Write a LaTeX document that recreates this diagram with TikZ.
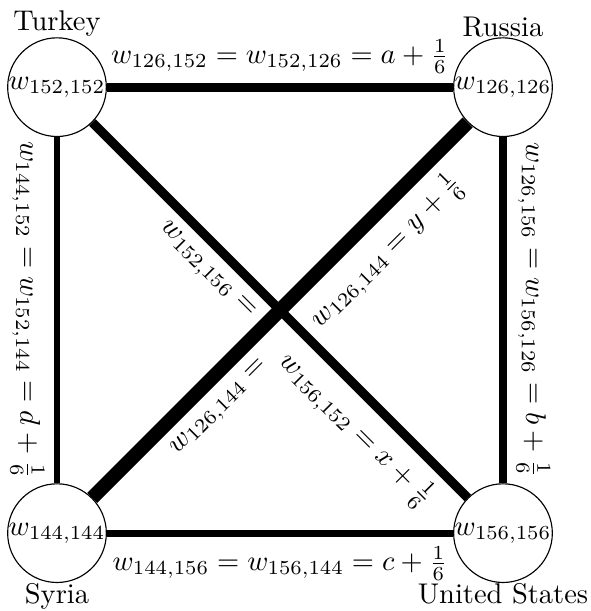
\documentclass[tikz,border=0pt]{standalone}
\usepackage{amsmath}
\usetikzlibrary{positioning}
\tikzset{
  cnode/.style={draw, circle, inner sep=0pt},
  every label/.style={inner sep=0pt},
  wl/.style={sloped}
}

\begin{document}
\begin{tikzpicture}
  \useasboundingbox (-0.703,-0.96) rectangle (6.573,6.575);
  \node[cnode, label=above:Turkey] (tur) at (0,5.5) {$w_{152,152}$};
  \node[cnode, label=above:Russia] (rus) at (5.5,5.5) {$w_{126,126}$};
  \node[cnode, label=below:Syria] (syr) at (0,0) {$w_{144,144}$};
  \node[cnode, label=below:United States] (usa) at (5.5,0) {$w_{156,156}$};
  \draw[line width=3.2pt] (tur) -- node[above]{$w_{126,152} = w_{152,126} = a + \frac{1}{6}$} (rus);
  \draw[line width=2.5pt] (syr) -- node[below]{$w_{144,156} = w_{156,144} = c + \frac{1}{6}$} (usa);
  \draw[line width=2.2pt] (tur) -- node[wl, below]{$w_{144,152} = w_{152,144} = d + \frac{1}{6}$} (syr);
  \draw[line width=2.7pt] (rus) -- node[wl, above]{$w_{126,156} = w_{156,126} = b + \frac{1}{6}$} (usa);
  \draw[line width=3.2pt] (tur) -- node[wl, below, pos=0.35]{$w_{152,156} =$}
    node[wl, below, pos=0.76]{$w_{156,152} = x + \frac{1}{6}$} (usa);
  \draw[line width=5pt] (syr) -- node[wl, below, pos=0.29]{$w_{126,144} =$}
    node[wl, below, pos=0.72]{$w_{126,144} = y + \frac{1}{6}$} (rus);
\end{tikzpicture}
\end{document}
